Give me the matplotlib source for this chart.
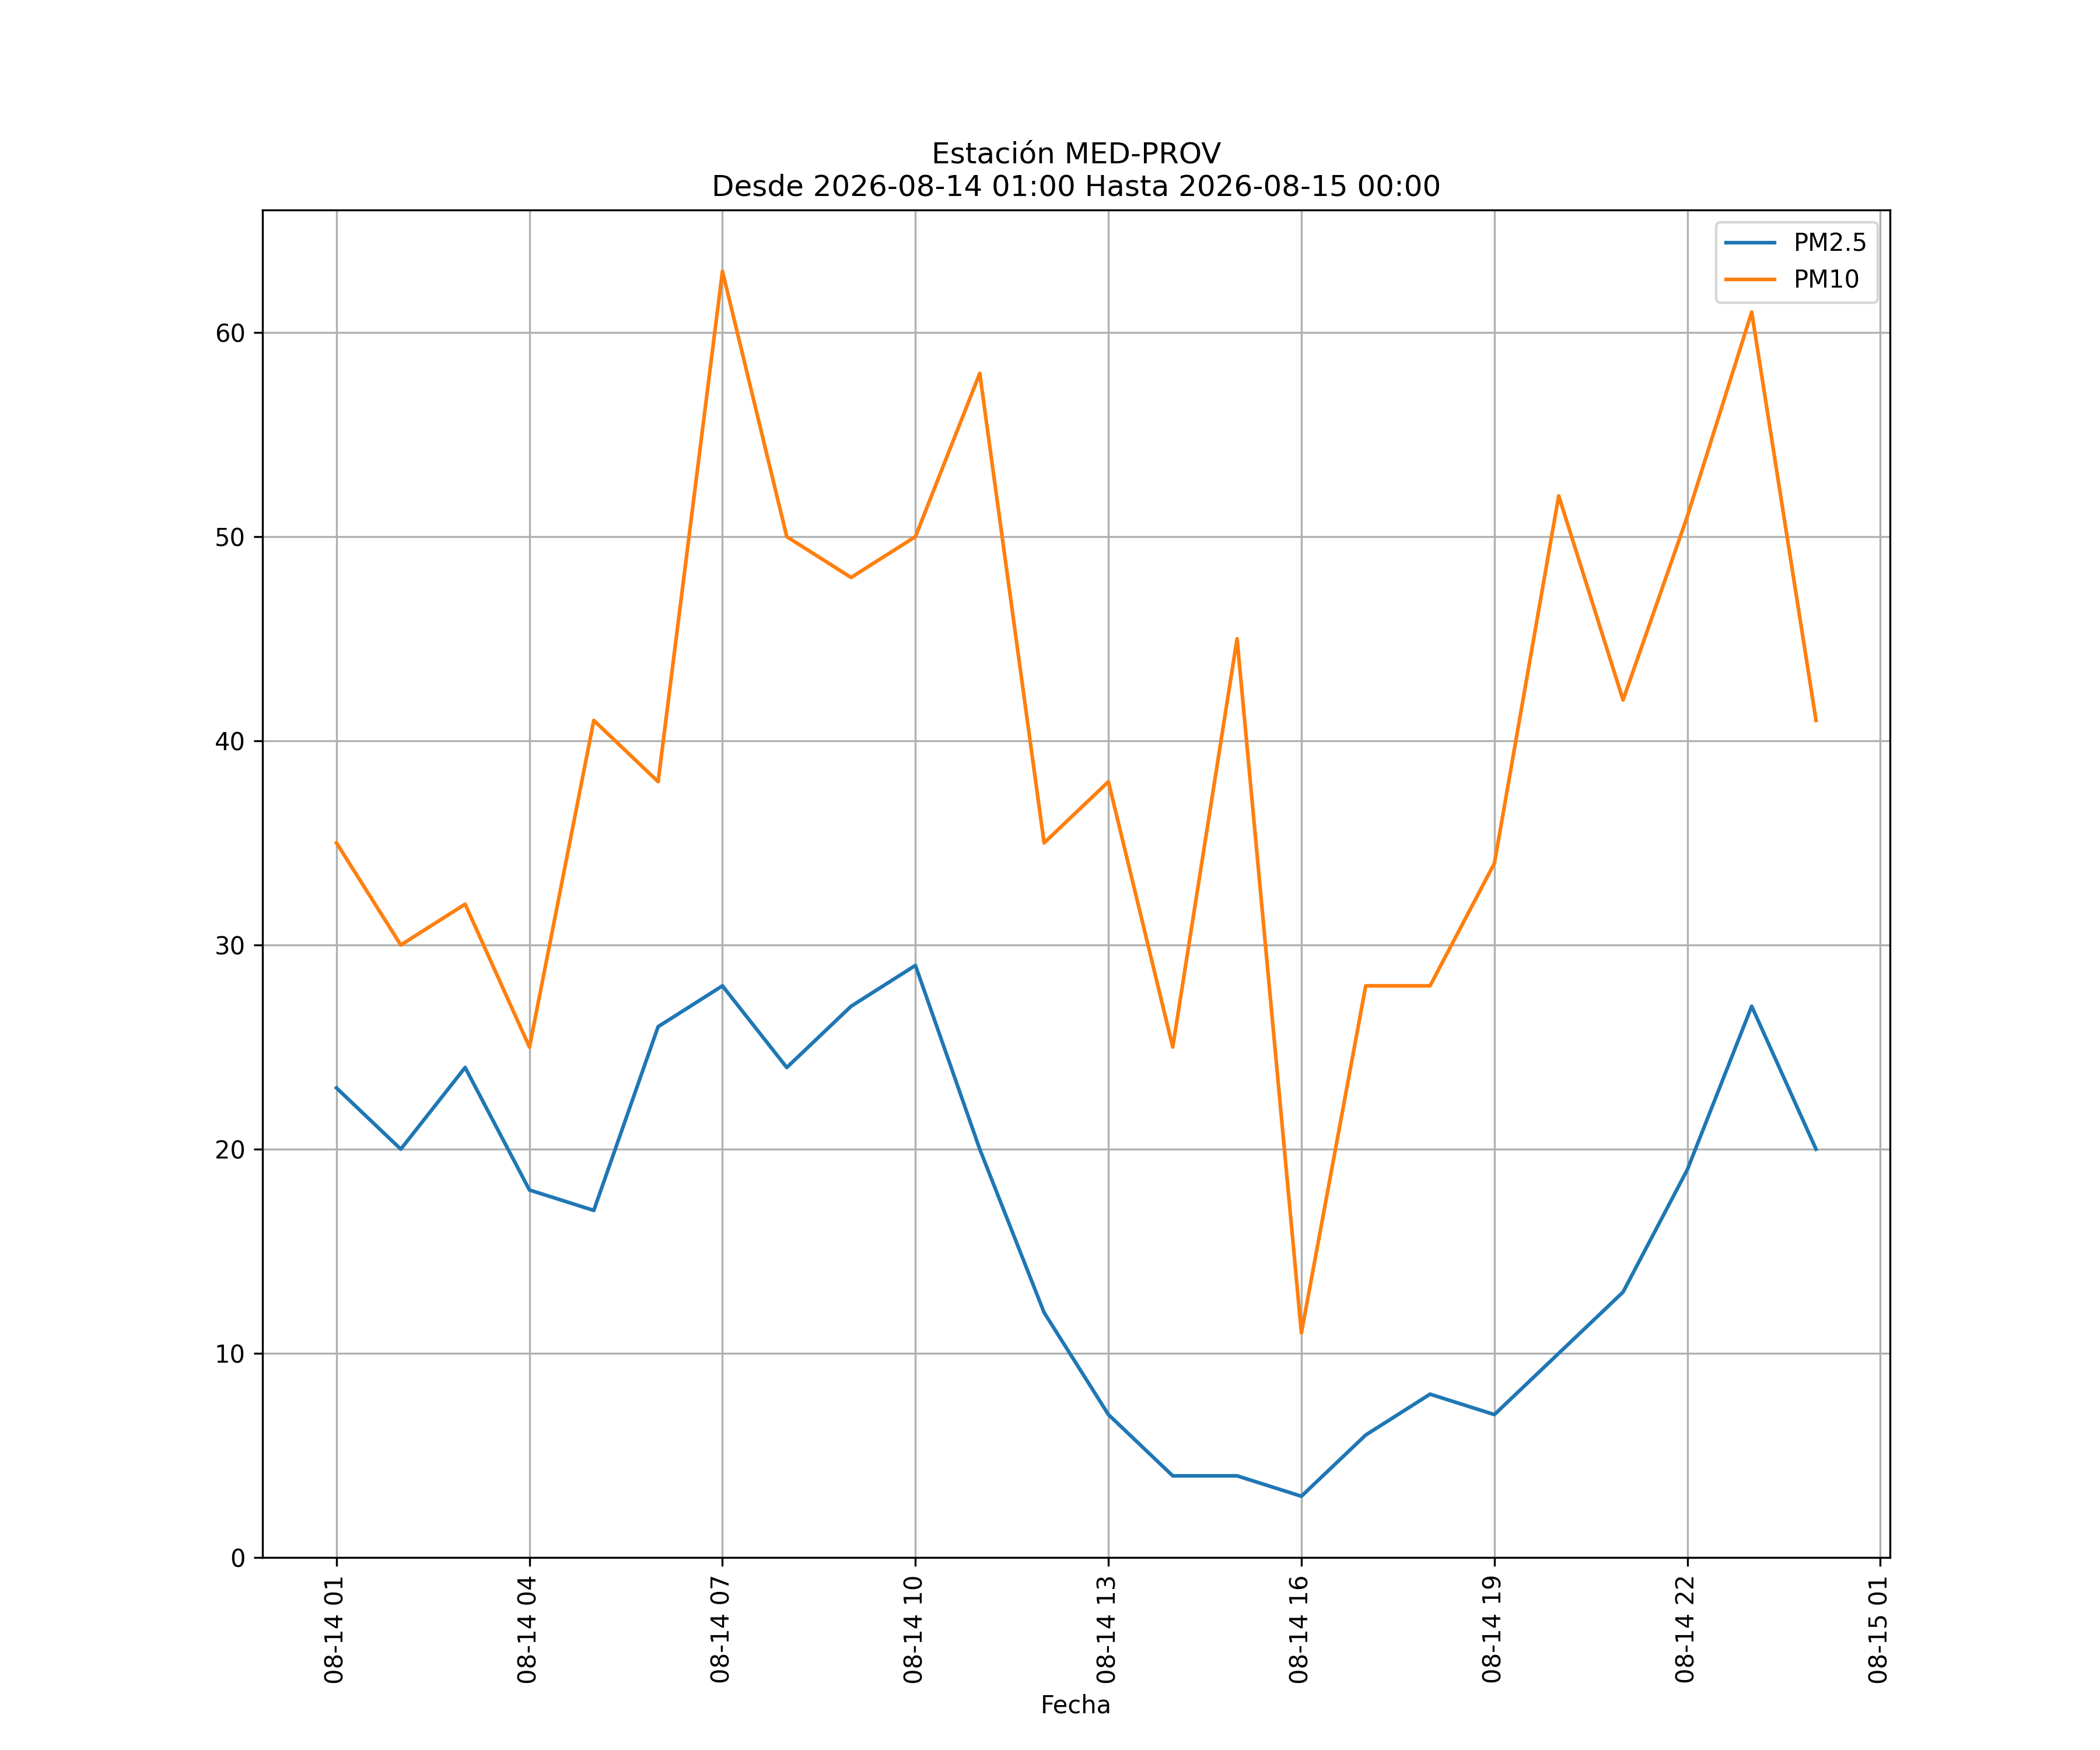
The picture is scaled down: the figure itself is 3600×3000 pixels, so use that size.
import matplotlib

matplotlib.use("Agg")
import matplotlib.dates as mdates
import matplotlib.pyplot as plt
import pandas as pd

station = "MED-PROV"
fechas = pd.date_range("2026-08-14 01:00", "2026-08-15 00:00", freq="h")
pm25 = [23, 20, 24, 18, 17, 26, 28, 24, 27, 29, 20, 12,
        7, 4, 4, 3, 6, 8, 7, 10, 13, 19, 27, 20]
pm10 = [35, 30, 32, 25, 41, 38, 63, 50, 48, 50, 58, 35,
        38, 25, 45, 11, 28, 28, 34, 52, 42, 51, 61, 41]

fig, ax = plt.subplots(figsize=(12, 10))
ax.plot(fechas, pm25, label="PM2.5")
ax.plot(fechas, pm10, label="PM10")
ax.set_ylim(bottom=0)
ax.xaxis.set_major_locator(mdates.HourLocator(byhour=range(1, 24, 3)))
ax.xaxis.set_major_formatter(mdates.DateFormatter("%m-%d %H"))
plt.setp(ax.get_xticklabels(), rotation=90)
ax.set_xlabel("Fecha")
ax.set_title(f"Estación {station}\nDesde {fechas[0]:%Y-%m-%d %H:%M} Hasta {fechas[-1]:%Y-%m-%d %H:%M}")
ax.grid(True)
ax.legend(loc="upper right")
fig.savefig("out.png", dpi=300)
